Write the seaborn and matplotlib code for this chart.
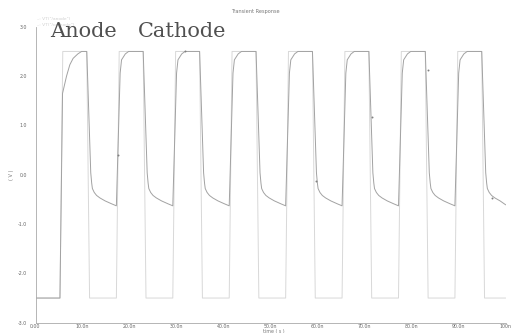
import matplotlib
matplotlib.use("Agg")
import matplotlib.pyplot as plt
from matplotlib.ticker import MultipleLocator
import seaborn as sns
import pandas as pd

# ---- data (time in ns, voltage in V) ----
anode_t = [0.0, 5.2, 5.8, 10.9, 11.5, 17.2, 17.8, 22.9, 23.5, 29.2, 29.8,
           34.9, 35.5, 41.2, 41.8, 46.9, 47.5, 53.2, 53.8, 58.9, 59.5,
           65.2, 65.8, 70.9, 71.5, 77.2, 77.8, 82.9, 83.5, 89.2, 89.8,
           94.9, 95.5, 100.0]
anode_v = [-2.5, -2.5, 2.5, 2.5, -2.5, -2.5, 2.5, 2.5, -2.5, -2.5, 2.5,
           2.5, -2.5, -2.5, 2.5, 2.5, -2.5, -2.5, 2.5, 2.5, -2.5,
           -2.5, 2.5, 2.5, -2.5, -2.5, 2.5, 2.5, -2.5, -2.5, 2.5,
           2.5, -2.5, -2.5]

cathode_t = [
    0.0, 5.2, 5.75, 6.6, 7.3, 8.0, 9.0, 9.8,
    10.9, 11.75, 11.95, 12.1, 12.5, 13.0, 13.7, 14.8, 16.2, 17.2, 18.0, 18.3, 19.1, 19.8,
    22.9, 23.75, 23.95, 24.1, 24.5, 25.0, 25.7, 26.8, 28.2, 29.2, 30.0, 30.3, 31.1, 31.8,
    34.9, 35.75, 35.95, 36.1, 36.5, 37.0, 37.7, 38.8, 40.2, 41.2, 42.0, 42.3, 43.1, 43.8,
    46.9, 47.75, 47.95, 48.1, 48.5, 49.0, 49.7, 50.8, 52.2, 53.2, 54.0, 54.3, 55.1, 55.8,
    58.9, 59.75, 59.95, 60.1, 60.5, 61.0, 61.7, 62.8, 64.2, 65.2, 66.0, 66.3, 67.1, 67.8,
    70.9, 71.75, 71.95, 72.1, 72.5, 73.0, 73.7, 74.8, 76.2, 77.2, 78.0, 78.3, 79.1, 79.8,
    82.9, 83.75, 83.95, 84.1, 84.5, 85.0, 85.7, 86.8, 88.2, 89.2, 90.0, 90.3, 91.1, 91.8,
    94.9, 95.75, 95.95, 96.1, 96.5, 97.0, 97.7, 98.8, 100.0]
cathode_v = [
    -2.5, -2.5, 1.65, 2.0, 2.23, 2.36, 2.45, 2.5,
    2.5, 0.04, -0.17, -0.28, -0.36, -0.42, -0.47, -0.53, -0.59, -0.63, 2.06, 2.33, 2.45, 2.5,
    2.5, 0.04, -0.17, -0.28, -0.36, -0.42, -0.47, -0.53, -0.59, -0.63, 2.06, 2.33, 2.45, 2.5,
    2.5, 0.04, -0.17, -0.28, -0.36, -0.42, -0.47, -0.53, -0.59, -0.63, 2.06, 2.33, 2.45, 2.5,
    2.5, 0.04, -0.17, -0.28, -0.36, -0.42, -0.47, -0.53, -0.59, -0.63, 2.06, 2.33, 2.45, 2.5,
    2.5, 0.04, -0.17, -0.28, -0.36, -0.42, -0.47, -0.53, -0.59, -0.63, 2.06, 2.33, 2.45, 2.5,
    2.5, 0.04, -0.17, -0.28, -0.36, -0.42, -0.47, -0.53, -0.59, -0.63, 2.06, 2.33, 2.45, 2.5,
    2.5, 0.04, -0.17, -0.28, -0.36, -0.42, -0.47, -0.53, -0.59, -0.63, 2.06, 2.33, 2.45, 2.5,
    2.5, 0.04, -0.17, -0.28, -0.36, -0.42, -0.47, -0.53, -0.61]

marker_t = [17.5, 31.8, 59.7, 71.6, 83.5, 97.1]
marker_v = [0.41, 2.5, -0.12, 1.18, 2.13, -0.48]

x_ticks = [0, 10, 20, 30, 40, 50, 60, 70, 80, 90, 100]
x_labels = ["0.00", "10.0n", "20.0n", "30.0n", "40.0n", "50.0n",
            "60.0n", "70.0n", "80.0n", "90.0n", "100n"]
y_ticks = [-3.0, -2.0, -1.0, 0.0, 1.0, 2.0, 3.0]
y_labels = ["-3.0", "-2.0", "-1.0", "0.0", "1.0", "2.0", "3.0"]

title = "Transient Response"
x_title = "time ( s )"
y_title = "( V )"
legend_entries = ['–: VT("/anode")', '–: VT("/cathode")']
big_labels = ["Anode", "Cathode"]

# ---- figure ----
sns.set_theme(style="white")
plt.rcParams["font.family"] = ["DejaVu Sans"]

W, H = 511, 333
fig = plt.figure(figsize=(W / 100, H / 100), dpi=100)
ax = fig.add_axes([35.5 / W, 1 - 322.7 / H, (505.7 - 35.5) / W, (322.7 - 26.8) / H])

df_a = pd.DataFrame({"t": anode_t, "v": anode_v})
df_c = pd.DataFrame({"t": cathode_t, "v": cathode_v})
sns.lineplot(data=df_a, x="t", y="v", ax=ax, color="#d8d8d8", linewidth=0.7,
             estimator=None, sort=False)
sns.lineplot(data=df_c, x="t", y="v", ax=ax, color="#a2a2a2", linewidth=0.7,
             estimator=None, sort=False)
ax.scatter(marker_t, marker_v, s=2, color="#808080", zorder=3, linewidths=0)

ax.set_xlim(0, 100)
ax.set_ylim(-3.0, 3.0)
ax.set_xticks(x_ticks)
ax.set_xticklabels(x_labels)
ax.set_yticks(y_ticks)
ax.set_yticklabels(y_labels)
ax.xaxis.set_minor_locator(MultipleLocator(2))
ax.yaxis.set_minor_locator(MultipleLocator(0.2))
ax.tick_params(axis="both", which="major", direction="in", length=3, width=0.5,
               colors="#999999", labelsize=3.4, labelcolor="#666666")
ax.tick_params(axis="x", which="major", pad=1.2)
ax.tick_params(axis="y", which="major", pad=6)
ax.tick_params(axis="both", which="minor", direction="in", length=1.5, width=0.4,
               colors="#aaaaaa")
ax.set_xlabel("")
ax.set_ylabel("")
for s in ["top", "right"]:
    ax.spines[s].set_visible(False)
for s in ["left", "bottom"]:
    ax.spines[s].set_color("#aaaaaa")
    ax.spines[s].set_linewidth(0.6)

fig.text(255 / W, 1 - 12 / H, title, ha="center", va="center",
         fontsize=3.6, color="#777777")
fig.text(274 / W, 1 - 331 / H, x_title, ha="center", va="center",
         fontsize=3.4, color="#777777")
fig.text(12 / W, 1 - 175 / H, y_title, ha="center", va="center",
         fontsize=3.6, color="#777777", rotation=90)
fig.text(37 / W, 1 - 19 / H, legend_entries[0], ha="left", va="center",
         fontsize=3.2, color="#d0d0d0")
fig.text(37 / W, 1 - 25 / H, legend_entries[1], ha="left", va="center",
         fontsize=3.2, color="#d0d0d0")
fig.text(50 / W, 1 - 37.3 / H, big_labels[0], ha="left", va="baseline",
         fontsize=15, color="#505050", family="DejaVu Serif")
fig.text(138 / W, 1 - 37.3 / H, big_labels[1], ha="left", va="baseline",
         fontsize=15, color="#505050", family="DejaVu Serif")

fig.savefig("out.png", dpi=100)
